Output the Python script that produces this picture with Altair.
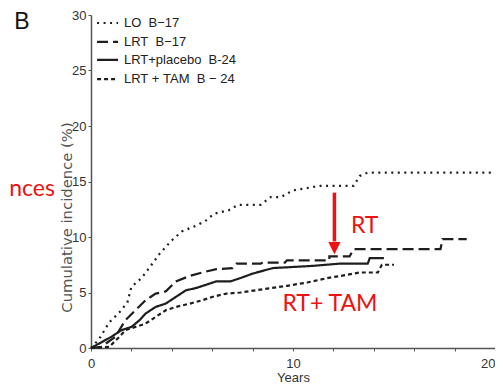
import altair as alt
import pandas as pd

# ---------------- data ----------------
series_names = ["LO\u00a0\u00a0B\u221217", "LRT\u00a0\u00a0B\u221217",
                "LRT+placebo\u00a0\u00a0B-24", "LRT\u00a0+\u00a0TAM\u00a0\u00a0B\u00a0\u2212\u00a024"]

lo_x = [0, 0.4, 0.9, 1.4, 1.8, 2.0, 2.5, 3.0, 3.4, 4.0, 4.5, 5.3, 5.7, 6.1, 6.8, 7.3,
        8.4, 8.9, 9.4, 10.0, 11.3, 13.0, 13.3, 13.7, 19.95]
lo_y = [0, 0.8, 2.3, 3.2, 4.1, 5.5, 6.3, 7.5, 8.5, 9.7, 10.5, 11.1, 11.5, 12.1, 12.4, 12.9,
        12.9, 13.6, 13.6, 14.2, 14.6, 14.6, 15.5, 15.8, 15.8]

lrt_x = [0, 0.5, 1.2, 1.7, 2.2, 2.7, 3.2, 3.7, 4.2, 4.9, 5.5, 6.2, 7.0, 7.2, 8.4, 8.5,
         9.6, 9.7, 11.8, 11.8, 12.8, 13.0, 17.3, 17.4, 18.6]
lrt_y = [0, 0.1, 1.0, 2.5, 3.4, 4.3, 4.9, 5.1, 6.0, 6.5, 6.8, 7.1, 7.2, 7.6, 7.6, 7.7,
         7.7, 7.9, 7.9, 8.25, 8.25, 8.9, 8.9, 9.8, 9.8]

pla_x = [0, 0.5, 1.0, 1.5, 2.0, 2.4, 2.7, 3.2, 3.7, 4.2, 4.7, 5.2, 5.7, 6.2, 6.9, 7.4,
         8.0, 9.0, 11.0, 12.3, 13.7, 13.8, 14.5]
pla_y = [0, 0.5, 1.0, 1.6, 1.9, 2.5, 3.1, 3.7, 4.0, 4.6, 5.2, 5.4, 5.7, 6.0, 6.0, 6.3,
         6.7, 7.2, 7.4, 7.6, 7.6, 8.1, 8.1]

tam_x = [0, 0.9, 1.4, 1.7, 2.2, 2.7, 3.2, 3.7, 4.2, 4.9, 5.5, 6.0, 6.7, 7.4, 8.9, 9.7,
         10.7, 11.7, 12.7, 13.3, 14.2, 14.4, 15.0]
tam_y = [0, 0.1, 1.0, 1.6, 1.9, 2.2, 2.8, 3.4, 3.7, 4.0, 4.3, 4.6, 4.9, 5.0, 5.4, 5.6,
         5.9, 6.3, 6.6, 6.8, 6.8, 7.5, 7.5]

dash_styles = [[2, 4.5], [11, 5], [1, 0], [4, 3]]

# legend rows (drawn in data space, top-left of the plot)
legend_row_y = [29.28, 27.57, 25.95, 24.23]
legend_sym_x1 = 0.30
legend_sym_x2 = 1.34
legend_text_x = 1.63

# annotations
ann_text = ["RT", "RT+ TAM"]
ann_x = [12.87, 9.48]
ann_y = [10.95, 3.95]
arrow_x = [12.05]
arrow_top = [14.0]
arrow_bottom = [9.6]
arrow_head = [9.0]
side_text = ["nces"]
side_x = [-4.05]
side_y = [14.35]
panel_label = ["B"]
panel_x = [-3.42]
panel_y = [28.78]

# ---------------- build ----------------
rows = []
for name, xs, ys in zip(series_names, [lo_x, lrt_x, pla_x, tam_x], [lo_y, lrt_y, pla_y, tam_y]):
    for i, (xv, yv) in enumerate(zip(xs, ys)):
        rows.append({"series": name, "years": xv, "inc": yv, "idx": i})
df = pd.DataFrame(rows)

xscale = alt.Scale(domain=[0, 20], nice=False, zero=False)
yscale = alt.Scale(domain=[0, 30], nice=False, zero=False)
dash_scale = alt.Scale(domain=series_names, range=dash_styles)

x_ticks = [i * 0.5 for i in range(41)]

lines = alt.Chart(df).mark_line(color="#1e1e1e", strokeWidth=2.2, clip=False).encode(
    x=alt.X("years:Q", scale=xscale,
            axis=alt.Axis(title="Years", values=x_ticks,
                          labelExpr="datum.value % 5 == 0 ? datum.label : ''",
                          labelAlign={"condition": {"test": "datum.value == 20", "value": "right"},
                                      "value": "center"},
                          tickSize=3, labelPadding=6, titleY=29.5, titleBaseline="middle",
                          titleFont="Liberation Sans", titleFontSize=13, titleFontWeight="normal",
                          titleColor="#333")),
    y=alt.Y("inc:Q", scale=yscale,
            axis=alt.Axis(title="Cumulative incidence (%)", values=[0, 5, 10, 15, 20, 25, 30],
                          tickSize=3, labelPadding=2, titleX=-24, titleY=202,
                          titleBaseline="middle", titleAngle=-90,
                          titleFont="DejaVu Sans", titleFontSize=14.8, titleFontWeight="normal",
                          titleColor="#555")),
    strokeDash=alt.StrokeDash("series:N", scale=dash_scale, legend=None),
    order="idx:Q",
)

leg_df = pd.DataFrame({"series": series_names, "y": legend_row_y,
                       "x1": [legend_sym_x1] * 4, "x2": [legend_sym_x2] * 4,
                       "tx": [legend_text_x] * 4})
leg_sym = alt.Chart(leg_df).mark_rule(color="#1e1e1e", strokeWidth=2.2).encode(
    x="x1:Q", x2="x2:Q", y="y:Q",
    strokeDash=alt.StrokeDash("series:N", scale=dash_scale, legend=None))
leg_txt = alt.Chart(leg_df).mark_text(font="Liberation Sans", fontSize=13, color="#222",
                                      align="left", baseline="middle").encode(
    x="tx:Q", y="y:Q", text="series:N")

ann_df = pd.DataFrame({"t": ann_text, "x": ann_x, "y": ann_y})
ann = alt.Chart(ann_df).mark_text(color="#ee1111", font="Lato", fontSize=23, align="left",
                                  baseline="middle").encode(x="x:Q", y="y:Q", text="t:N")

side_df = pd.DataFrame({"t": side_text, "x": side_x, "y": side_y})
side = alt.Chart(side_df).mark_text(color="#ee1111", font="Lato", fontSize=23, align="left",
                                    baseline="middle").encode(x="x:Q", y="y:Q", text="t:N")

panel_df = pd.DataFrame({"t": panel_label, "x": panel_x, "y": panel_y})
panel = alt.Chart(panel_df).mark_text(color="#111", font="Liberation Sans", fontSize=23,
                                      align="center", baseline="alphabetic").encode(
    x="x:Q", y="y:Q", text="t:N")

arrow_df = pd.DataFrame({"x": arrow_x, "y1": arrow_top, "y2": arrow_bottom, "yh": arrow_head})
shaft = alt.Chart(arrow_df).mark_rule(color="#ee1111", strokeWidth=3.5).encode(
    x="x:Q", y="y1:Q", y2="y2:Q")
head = alt.Chart(arrow_df).mark_point(shape="M-1,-1L1,-1L0,1Z", size=150, filled=True,
                                      color="#ee1111", opacity=1).encode(x="x:Q", y="yh:Q")

chart = alt.layer(lines, leg_sym, leg_txt, shaft, head, ann, side, panel).properties(
    width=404, height=333,
    autosize=alt.AutoSizeParams(type="none"),
    padding={"left": 83, "top": 7, "right": 0, "bottom": 36},
    background="white",
).configure_view(stroke=None).configure_axis(
    grid=False, domainColor="#555", domainWidth=1.5, tickColor="#555", tickWidth=1,
    labelFont="Liberation Sans", labelFontSize=13, labelColor="#333",
)

chart.save("out.html", embed_options={"renderer": "svg", "actions": False})
